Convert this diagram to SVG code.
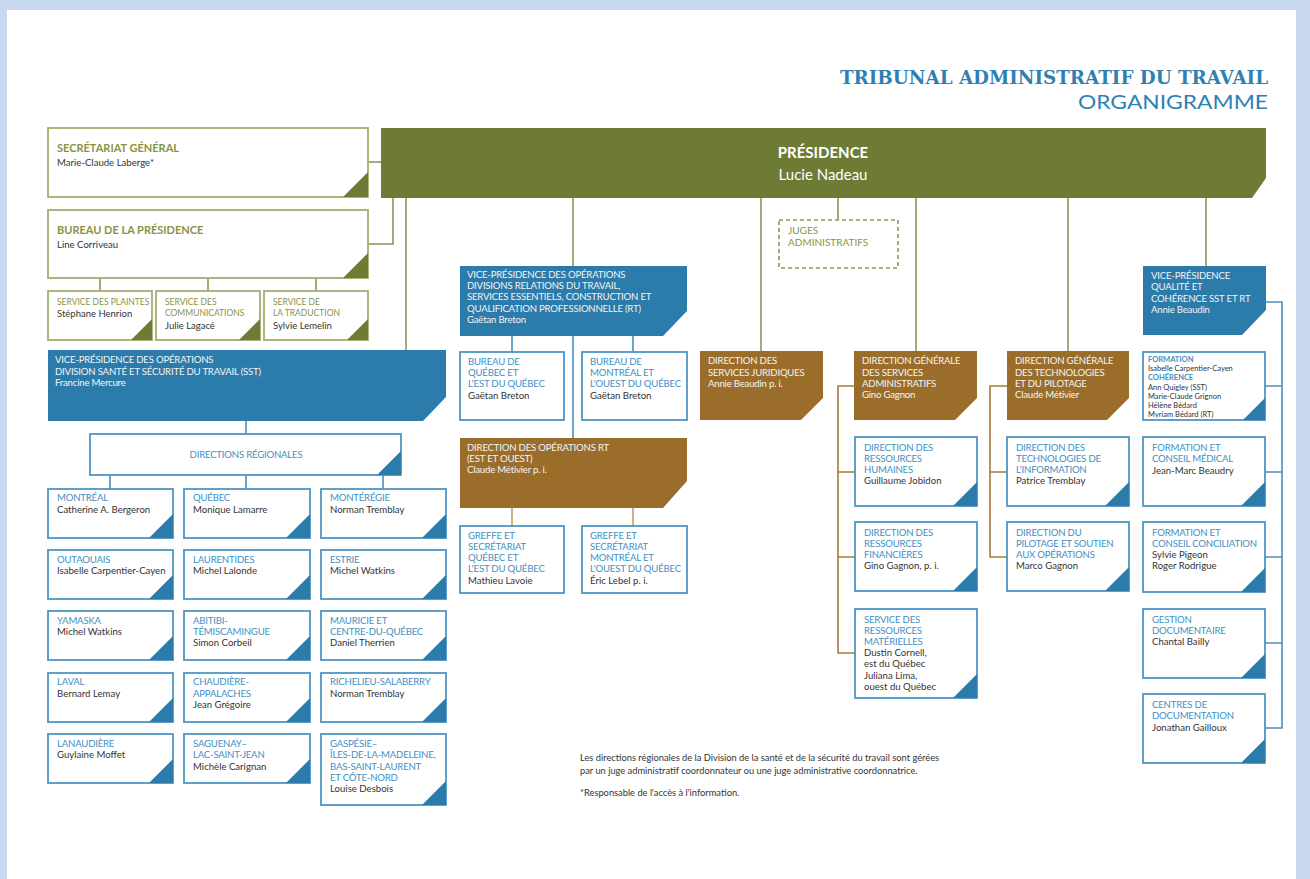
<svg xmlns="http://www.w3.org/2000/svg" width="1310" height="879" viewBox="0 0 1310 879">
  <defs>
    <style>
      text { font-family: Lato, "Open Sans", "Liberation Sans", sans-serif; }
      .bw { fill: #fff; stroke: #4f95c4; stroke-width: 1.8; }
      .ow { fill: #fff; stroke: #a5ad72; stroke-width: 1.8; }
      .bf { fill: #2b7bab; }
      .br { fill: #9b6d2b; }
      .tb { fill: #2b7bab; }
      .to { fill: #6e7b35; }
      .h { fill: #3f8fc3; font-size: 9.6px; letter-spacing: -0.2px; }
      .n { fill: #333; font-size: 9.6px; }
      .w { fill: #f4f4f4; font-size: 9.6px; letter-spacing: -0.2px; }
      .ot { fill: #8a9342; font-size: 11px; font-weight: bold; }
      .os { fill: #8a9342; font-size: 8.5px; }
      .ns { fill: #333; font-size: 9.5px; }
      .xs { font-size: 7.5px; letter-spacing: 0; }
      .title { font-family: "DejaVu Serif", "Liberation Serif", serif; font-weight: bold; font-size: 19px; fill: #2e80b3; }
      .sub { font-size: 20px; fill: #2e80b3; }
      .c-o { fill: none; stroke: #8d9755; stroke-width: 1.6; }
      .c-b { fill: none; stroke: #4a90c0; stroke-width: 1.6; }
      .c-t { fill: none; stroke: #c2a068; stroke-width: 1.6; }
      .c-r { fill: none; stroke: #a87a3a; stroke-width: 1.6; }
    </style>
  </defs>

  <!-- page frame -->
  <rect x="0" y="0" width="1310" height="879" fill="#c8d8ef"/>
  <rect x="7" y="10" width="1289" height="869" fill="#fff"/>

  <!-- heading -->
  <text class="title" x="1268" y="84" text-anchor="end" textLength="428" lengthAdjust="spacingAndGlyphs">TRIBUNAL ADMINISTRATIF DU TRAVAIL</text>
  <text class="sub" x="1268" y="109" text-anchor="end" textLength="190" lengthAdjust="spacingAndGlyphs">ORGANIGRAMME</text>

  <!-- connectors -->
  <g id="connectors">
    <path class="c-o" d="M368,162 H381"/>
    <path class="c-o" d="M368,244 H393 V198"/>
    <path class="c-o" d="M406,198 V350"/>
    <path class="c-o" d="M100,278 V291 M208,278 V291 M316,278 V291"/>
    <path class="c-o" d="M573,198 V266"/>
    <path class="c-o" d="M761,198 V351"/>
    <path class="c-o" d="M838,198 V220"/>
    <path class="c-o" d="M916,198 V351"/>
    <path class="c-o" d="M1068,198 V351"/>
    <path class="c-o" d="M1206,198 V266"/>
    <path class="c-b" d="M246,421 V434"/>
    <path class="c-b" d="M110,475 V489 M246,475 V489 M383,475 V489"/>
    <path class="c-b" d="M512,336 V352 M633,336 V352 M573,336 V438"/>
    <path class="c-b" d="M1266,302 H1282 V728 H1265 M1265,386 H1282 M1265,472 H1282 M1265,557 H1282 M1265,643 H1282"/>
    <path class="c-t" d="M512,508 V526 M633,508 V526"/>
    <path class="c-r" d="M854,386 H838 V653 H855 M838,472 H855 M838,557 H855"/>
    <path class="c-r" d="M1007,386 H990 V557 H1007 M990,472 H1007"/>
  </g>

  <!-- presidency -->
  <g id="presidence">
    <path d="M381,128 H1266 V178 L1252,198 H381 Z" fill="#6e7b35"/>
    <text x="823" y="158" text-anchor="middle" font-size="15" font-weight="bold" fill="#fff">PRÉSIDENCE</text>
    <text x="823" y="180" text-anchor="middle" font-size="15" fill="#fff">Lucie Nadeau</text>
  </g>

  <g id="secretariat">
    <rect class="ow" x="48" y="128" width="320" height="69"/>
    <path class="to" d="M368,172 V197 H343 Z"/>
    <text class="ot" x="57" y="152">SECRÉTARIAT GÉNÉRAL</text>
    <text class="n" x="57" y="166">Marie-Claude Laberge*</text>
  </g>

  <g id="bureau-presidence">
    <rect class="ow" x="48" y="210" width="320" height="68"/>
    <path class="to" d="M368,253 V278 H343 Z"/>
    <text class="ot" x="57" y="234">BUREAU DE LA PRÉSIDENCE</text>
    <text class="n" x="57" y="248">Line Corriveau</text>
  </g>

  <g id="plaintes">
    <rect class="ow" x="48" y="291" width="104" height="49"/>
    <path class="to" d="M152,319 V340 H131 Z"/>
    <text class="os" x="57" y="305">SERVICE DES PLAINTES</text>
    <text class="ns" x="57" y="317">Stéphane Henrion</text>
  </g>
  <g id="communications">
    <rect class="ow" x="156" y="291" width="104" height="49"/>
    <path class="to" d="M260,319 V340 H239 Z"/>
    <text class="os" x="165" y="305">SERVICE DES</text>
    <text class="os" x="165" y="316">COMMUNICATIONS</text>
    <text class="ns" x="165" y="329">Julie Lagacé</text>
  </g>
  <g id="traduction">
    <rect class="ow" x="264" y="291" width="104" height="49"/>
    <path class="to" d="M368,319 V340 H347 Z"/>
    <text class="os" x="273" y="305">SERVICE DE</text>
    <text class="os" x="273" y="316">LA TRADUCTION</text>
    <text class="ns" x="273" y="329">Sylvie Lemelin</text>
  </g>

  <!-- SST division -->
  <g id="vp-sst">
    <path class="bf" d="M48,350 H446 V397 L423,421 H48 Z"/>
    <text class="w" x="55" y="363">VICE-PRÉSIDENCE DES OPÉRATIONS</text>
    <text class="w" x="55" y="375">DIVISION SANTÉ ET SÉCURITÉ DU TRAVAIL (SST)</text>
    <text class="w" x="55" y="386">Francine Mercure</text>
  </g>

  <g id="directions-regionales">
    <rect class="bw" x="90" y="434" width="311" height="41"/>
    <path class="tb" d="M401,451 V475 H377 Z"/>
    <text class="h" x="246" y="458" text-anchor="middle">DIRECTIONS RÉGIONALES</text>
  </g>

  <g id="montreal">
    <rect class="bw" x="48" y="489" width="125" height="49"/>
    <path class="tb" d="M173,514 V538 H149 Z"/>
    <text class="h" x="57" y="501">MONTRÉAL</text>
    <text class="n" x="57" y="513">Catherine A. Bergeron</text>
  </g>
  <g id="quebec">
    <rect class="bw" x="184" y="489" width="126" height="49"/>
    <path class="tb" d="M310,514 V538 H286 Z"/>
    <text class="h" x="193" y="501">QUÉBEC</text>
    <text class="n" x="193" y="513">Monique Lamarre</text>
  </g>
  <g id="monteregie">
    <rect class="bw" x="321" y="489" width="125" height="49"/>
    <path class="tb" d="M446,514 V538 H422 Z"/>
    <text class="h" x="330" y="501">MONTÉRÉGIE</text>
    <text class="n" x="330" y="513">Norman Tremblay</text>
  </g>

  <g id="outaouais">
    <rect class="bw" x="48" y="550" width="125" height="49"/>
    <path class="tb" d="M173,575 V599 H149 Z"/>
    <text class="h" x="57" y="563">OUTAOUAIS</text>
    <text class="n" x="57" y="574">Isabelle Carpentier-Cayen</text>
  </g>
  <g id="laurentides">
    <rect class="bw" x="184" y="550" width="126" height="49"/>
    <path class="tb" d="M310,575 V599 H286 Z"/>
    <text class="h" x="193" y="563">LAURENTIDES</text>
    <text class="n" x="193" y="574">Michel Lalonde</text>
  </g>
  <g id="estrie">
    <rect class="bw" x="321" y="550" width="125" height="49"/>
    <path class="tb" d="M446,575 V599 H422 Z"/>
    <text class="h" x="330" y="563">ESTRIE</text>
    <text class="n" x="330" y="574">Michel Watkins</text>
  </g>

  <g id="yamaska">
    <rect class="bw" x="48" y="611" width="125" height="49"/>
    <path class="tb" d="M173,636 V660 H149 Z"/>
    <text class="h" x="57" y="624">YAMASKA</text>
    <text class="n" x="57" y="635">Michel Watkins</text>
  </g>
  <g id="abitibi">
    <rect class="bw" x="184" y="611" width="126" height="49"/>
    <path class="tb" d="M310,636 V660 H286 Z"/>
    <text class="h" x="193" y="624">ABITIBI-</text>
    <text class="h" x="193" y="635">TÉMISCAMINGUE</text>
    <text class="n" x="193" y="646">Simon Corbeil</text>
  </g>
  <g id="mauricie">
    <rect class="bw" x="321" y="611" width="125" height="49"/>
    <path class="tb" d="M446,636 V660 H422 Z"/>
    <text class="h" x="330" y="624">MAURICIE ET</text>
    <text class="h" x="330" y="635">CENTRE-DU-QUÉBEC</text>
    <text class="n" x="330" y="646">Daniel Therrien</text>
  </g>

  <g id="laval">
    <rect class="bw" x="48" y="673" width="125" height="49"/>
    <path class="tb" d="M173,698 V722 H149 Z"/>
    <text class="h" x="57" y="685">LAVAL</text>
    <text class="n" x="57" y="697">Bernard Lemay</text>
  </g>
  <g id="chaudiere">
    <rect class="bw" x="184" y="673" width="126" height="49"/>
    <path class="tb" d="M310,698 V722 H286 Z"/>
    <text class="h" x="193" y="685">CHAUDIÈRE-</text>
    <text class="h" x="193" y="697">APPALACHES</text>
    <text class="n" x="193" y="708">Jean Grégoire</text>
  </g>
  <g id="richelieu">
    <rect class="bw" x="321" y="673" width="125" height="49"/>
    <path class="tb" d="M446,698 V722 H422 Z"/>
    <text class="h" x="330" y="685">RICHELIEU-SALABERRY</text>
    <text class="n" x="330" y="697">Norman Tremblay</text>
  </g>

  <g id="lanaudiere">
    <rect class="bw" x="48" y="734" width="125" height="49"/>
    <path class="tb" d="M173,759 V783 H149 Z"/>
    <text class="h" x="57" y="747">LANAUDIÈRE</text>
    <text class="n" x="57" y="758">Guylaine Moffet</text>
  </g>
  <g id="saguenay">
    <rect class="bw" x="184" y="734" width="126" height="49"/>
    <path class="tb" d="M310,759 V783 H286 Z"/>
    <text class="h" x="193" y="747">SAGUENAY–</text>
    <text class="h" x="193" y="758">LAC-SAINT-JEAN</text>
    <text class="n" x="193" y="770">Michèle Carignan</text>
  </g>
  <g id="gaspesie">
    <rect class="bw" x="321" y="734" width="125" height="71"/>
    <path class="tb" d="M446,781 V805 H422 Z"/>
    <text class="h" x="330" y="747">GASPÉSIE–</text>
    <text class="h" x="330" y="758">ÎLES-DE-LA-MADELEINE,</text>
    <text class="h" x="330" y="770">BAS-SAINT-LAURENT</text>
    <text class="h" x="330" y="781">ET CÔTE-NORD</text>
    <text class="n" x="330" y="792">Louise Desbois</text>
  </g>

  <!-- RT division -->
  <g id="vp-rt">
    <path class="bf" d="M460,266 H687 V311 L663,336 H460 Z"/>
    <text class="w" x="467" y="278">VICE-PRÉSIDENCE DES OPÉRATIONS</text>
    <text class="w" x="467" y="289">DIVISIONS RELATIONS DU TRAVAIL,</text>
    <text class="w" x="467" y="300">SERVICES ESSENTIELS, CONSTRUCTION ET</text>
    <text class="w" x="467" y="312">QUALIFICATION PROFESSIONNELLE (RT)</text>
    <text class="w" x="467" y="323">Gaëtan Breton</text>
  </g>
  <g id="bureau-quebec">
    <rect class="bw" x="460" y="352" width="104" height="68"/>
    <text class="h" x="468" y="365">BUREAU DE</text>
    <text class="h" x="468" y="376">QUÉBEC ET</text>
    <text class="h" x="468" y="387">L'EST DU QUÉBEC</text>
    <text class="n" x="468" y="399">Gaëtan Breton</text>
  </g>
  <g id="bureau-montreal">
    <rect class="bw" x="582" y="352" width="105" height="68"/>
    <text class="h" x="590" y="365">BUREAU DE</text>
    <text class="h" x="590" y="376">MONTRÉAL ET</text>
    <text class="h" x="590" y="387">L'OUEST DU QUÉBEC</text>
    <text class="n" x="590" y="399">Gaëtan Breton</text>
  </g>
  <g id="operations-rt">
    <path class="br" d="M460,438 H687 V481 L663,508 H460 Z"/>
    <text class="w" x="467" y="451">DIRECTION DES OPÉRATIONS RT</text>
    <text class="w" x="467" y="462">(EST ET OUEST)</text>
    <text class="w" x="467" y="473">Claude Métivier p. i.</text>
  </g>
  <g id="greffe-quebec">
    <rect class="bw" x="460" y="526" width="104" height="67"/>
    <text class="h" x="468" y="539">GREFFE ET</text>
    <text class="h" x="468" y="550">SECRÉTARIAT</text>
    <text class="h" x="468" y="561">QUÉBEC ET</text>
    <text class="h" x="468" y="572">L'EST DU QUÉBEC</text>
    <text class="n" x="468" y="584">Mathieu Lavoie</text>
  </g>
  <g id="greffe-montreal">
    <rect class="bw" x="582" y="526" width="105" height="67"/>
    <text class="h" x="590" y="539">GREFFE ET</text>
    <text class="h" x="590" y="550">SECRÉTARIAT</text>
    <text class="h" x="590" y="561">MONTRÉAL ET</text>
    <text class="h" x="590" y="572">L'OUEST DU QUÉBEC</text>
    <text class="n" x="590" y="584">Éric Lebel p. i.</text>
  </g>

  <!-- judges -->
  <g id="juges">
    <rect x="779" y="220" width="119" height="48" fill="#fff" stroke="#8d9755" stroke-width="1.6" stroke-dasharray="4 3"/>
    <text x="788" y="234" font-size="10" fill="#8a9342">JUGES</text>
    <text x="788" y="246" font-size="10" fill="#8a9342">ADMINISTRATIFS</text>
  </g>

  <g id="juridiques">
    <path class="br" d="M700,351 H823 V398 L801,420 H700 Z"/>
    <text class="w" x="708" y="364">DIRECTION DES</text>
    <text class="w" x="708" y="376">SERVICES JURIDIQUES</text>
    <text class="w" x="708" y="387">Annie Beaudin p. i.</text>
  </g>

  <!-- administrative services -->
  <g id="services-administratifs">
    <path class="br" d="M854,351 H977 V398 L955,420 H854 Z"/>
    <text class="w" x="862" y="364">DIRECTION GÉNÉRALE</text>
    <text class="w" x="862" y="376">DES SERVICES</text>
    <text class="w" x="862" y="387">ADMINISTRATIFS</text>
    <text class="w" x="862" y="398">Gino Gagnon</text>
  </g>
  <g id="ressources-humaines">
    <rect class="bw" x="855" y="437" width="122" height="69"/>
    <path class="tb" d="M977,482 V506 H953 Z"/>
    <text class="h" x="864" y="451">DIRECTION DES</text>
    <text class="h" x="864" y="462">RESSOURCES</text>
    <text class="h" x="864" y="473">HUMAINES</text>
    <text class="n" x="864" y="484">Guillaume Jobidon</text>
  </g>
  <g id="ressources-financieres">
    <rect class="bw" x="855" y="522" width="122" height="69"/>
    <path class="tb" d="M977,567 V591 H953 Z"/>
    <text class="h" x="864" y="536">DIRECTION DES</text>
    <text class="h" x="864" y="547">RESSOURCES</text>
    <text class="h" x="864" y="558">FINANCIÈRES</text>
    <text class="n" x="864" y="569">Gino Gagnon, p. i.</text>
  </g>
  <g id="ressources-materielles">
    <rect class="bw" x="855" y="609" width="122" height="89"/>
    <path class="tb" d="M977,674 V698 H953 Z"/>
    <text class="h" x="864" y="623">SERVICE DES</text>
    <text class="h" x="864" y="634">RESSOURCES</text>
    <text class="h" x="864" y="645">MATÉRIELLES</text>
    <text class="n" x="864" y="656">Dustin Cornell,</text>
    <text class="n" x="864" y="667">est du Québec</text>
    <text class="n" x="864" y="679">Juliana Lima,</text>
    <text class="n" x="864" y="690">ouest du Québec</text>
  </g>

  <!-- technology and steering -->
  <g id="technologies-pilotage">
    <path class="br" d="M1007,351 H1129 V398 L1107,420 H1007 Z"/>
    <text class="w" x="1015" y="364">DIRECTION GÉNÉRALE</text>
    <text class="w" x="1015" y="376">DES TECHNOLOGIES</text>
    <text class="w" x="1015" y="387">ET DU PILOTAGE</text>
    <text class="w" x="1015" y="398">Claude Métivier</text>
  </g>
  <g id="technologies-information">
    <rect class="bw" x="1007" y="437" width="122" height="69"/>
    <path class="tb" d="M1129,482 V506 H1105 Z"/>
    <text class="h" x="1016" y="451">DIRECTION DES</text>
    <text class="h" x="1016" y="462">TECHNOLOGIES DE</text>
    <text class="h" x="1016" y="473">L'INFORMATION</text>
    <text class="n" x="1016" y="484">Patrice Tremblay</text>
  </g>
  <g id="pilotage-soutien">
    <rect class="bw" x="1007" y="522" width="122" height="69"/>
    <path class="tb" d="M1129,567 V591 H1105 Z"/>
    <text class="h" x="1016" y="536">DIRECTION DU</text>
    <text class="h" x="1016" y="547">PILOTAGE ET SOUTIEN</text>
    <text class="h" x="1016" y="558">AUX OPÉRATIONS</text>
    <text class="n" x="1016" y="569">Marco Gagnon</text>
  </g>

  <!-- quality and coherence -->
  <g id="vp-qualite">
    <path class="bf" d="M1143,266 H1266 V310 L1242,335 H1143 Z"/>
    <text class="w" x="1151" y="279">VICE-PRÉSIDENCE</text>
    <text class="w" x="1151" y="290">QUALITÉ ET</text>
    <text class="w" x="1151" y="302">COHÉRENCE SST ET RT</text>
    <text class="w" x="1151" y="313">Annie Beaudin</text>
  </g>
  <g id="formation-coherence">
    <rect class="bw" x="1143" y="352" width="122" height="68"/>
    <path class="tb" d="M1265,398 V420 H1243 Z"/>
    <text class="h xs" x="1148" y="362" font-weight="bold">FORMATION</text>
    <text class="n xs" x="1148" y="371">Isabelle Carpentier-Cayen</text>
    <text class="h xs" x="1148" y="380" font-weight="bold">COHÉRENCE</text>
    <text class="n xs" x="1148" y="390">Ann Quigley (SST)</text>
    <text class="n xs" x="1148" y="399">Marie-Claude Grignon</text>
    <text class="n xs" x="1148" y="408">Hélène Bédard</text>
    <text class="n xs" x="1148" y="417">Myriam Bédard (RT)</text>
  </g>
  <g id="conseil-medical">
    <rect class="bw" x="1143" y="437" width="122" height="69"/>
    <path class="tb" d="M1265,482 V506 H1241 Z"/>
    <text class="h" x="1152" y="451">FORMATION ET</text>
    <text class="h" x="1152" y="462">CONSEIL MÉDICAL</text>
    <text class="n" x="1152" y="474">Jean-Marc Beaudry</text>
  </g>
  <g id="conseil-conciliation">
    <rect class="bw" x="1143" y="522" width="122" height="70"/>
    <path class="tb" d="M1265,568 V592 H1241 Z"/>
    <text class="h" x="1152" y="536">FORMATION ET</text>
    <text class="h" x="1152" y="547">CONSEIL CONCILIATION</text>
    <text class="n" x="1152" y="558">Sylvie Pigeon</text>
    <text class="n" x="1152" y="569">Roger Rodrigue</text>
  </g>
  <g id="gestion-documentaire">
    <rect class="bw" x="1143" y="609" width="122" height="69"/>
    <path class="tb" d="M1265,654 V678 H1241 Z"/>
    <text class="h" x="1152" y="623">GESTION</text>
    <text class="h" x="1152" y="634">DOCUMENTAIRE</text>
    <text class="n" x="1152" y="645">Chantal Bailly</text>
  </g>
  <g id="centres-documentation">
    <rect class="bw" x="1143" y="694" width="122" height="69"/>
    <path class="tb" d="M1265,739 V763 H1241 Z"/>
    <text class="h" x="1152" y="708">CENTRES DE</text>
    <text class="h" x="1152" y="719">DOCUMENTATION</text>
    <text class="n" x="1152" y="731">Jonathan Gailloux</text>
  </g>

  <!-- notes -->
  <g id="notes" font-size="9.3" fill="#333">
    <text x="580" y="761">Les directions régionales de la Division de la santé et de la sécurité du travail sont gérées</text>
    <text x="580" y="774">par un juge administratif coordonnateur ou une juge administrative coordonnatrice.</text>
    <text x="580" y="796">*Responsable de l'accès à l'information.</text>
  </g>
</svg>
